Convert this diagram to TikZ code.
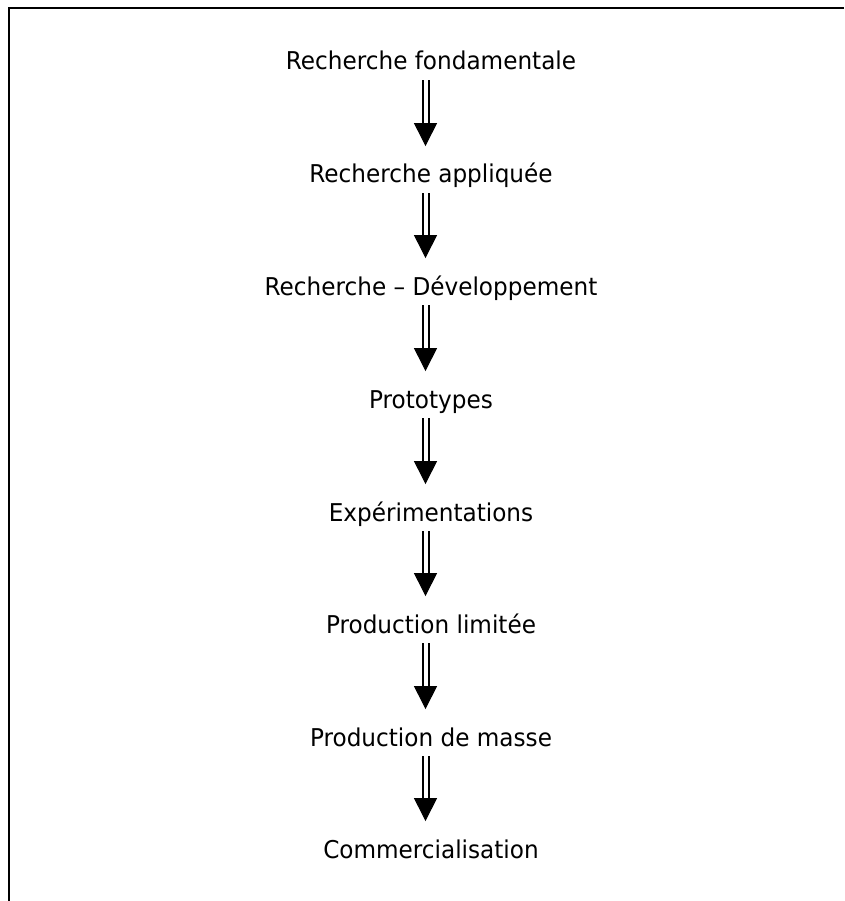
\documentclass[tikz,border=0pt]{standalone}
\usepackage{fontspec}
\setmainfont{DejaVu Sans}[FakeStretch=0.945]
\usetikzlibrary{arrows.meta}
\begin{document}
\begin{tikzpicture}[x=1pt,y=-1pt,
  step label/.style={anchor=base,inner sep=0pt,text height=19pt,text depth=5pt,
    font=\fontsize{24.5pt}{29pt}\selectfont},
  shaft/.style={line width=2pt,double distance=4pt,shorten <=5pt,shorten >=40.7pt},
  headtip/.style={line width=1pt,-{Triangle[width=23pt,length=23pt]},
    shorten <=45pt,shorten >=17.7pt}]
\useasboundingbox (0,0) rectangle (844,901);
% open frame: top and left edges only
\draw[line width=2pt] (844,8) -- (9,8) -- (9,901);
% the stages, top to bottom
\node[step label] (n1) at (431,70)  {Recherche fondamentale};
\node[step label] (n2) at (431,183) {Recherche appliquée};
\node[step label] (n3) at (431,295) {Recherche – Développement};
\node[step label] (n4) at (431,408) {Prototypes};
\node[step label] (n5) at (431,521) {Expérimentations};
\node[step label] (n6) at (431,633) {Production limitée};
\node[step label] (n7) at (431,746) {Production de masse};
\node[step label] (n8) at (431,858) {Commercialisation};
% double-shafted arrows between consecutive stages (head first, shaft over it)
\foreach \a/\b in {n1/n2,n2/n3,n3/n4,n4/n5,n5/n6,n6/n7,n7/n8}{
  \draw[headtip] ([xshift=-5.5pt]\a.south) -- ([xshift=-5.5pt]\b.north);
  \draw[shaft] ([xshift=-5.5pt]\a.south) -- ([xshift=-5.5pt]\b.north);
}
\end{tikzpicture}
\end{document}
